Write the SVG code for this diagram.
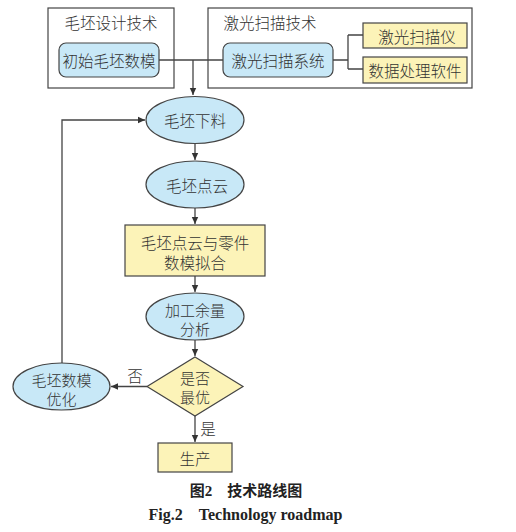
<svg xmlns="http://www.w3.org/2000/svg" width="516" height="532" viewBox="0 0 516 532">
<style>
.t{font-family:"Noto Sans CJK SC","Liberation Sans",sans-serif;font-size:15.5px;font-weight:300;fill:#333;text-anchor:middle;dominant-baseline:central}
.s{font-size:15px}
.grp{fill:#fff;stroke:#444;stroke-width:1.2}
.blue{fill:#c8e8f7;stroke:#444;stroke-width:1.2}
.yel{fill:#fcf3b8;stroke:#444;stroke-width:1.2}
.ln{fill:none;stroke:#444;stroke-width:1.3}
.cap{font-family:"Noto Sans CJK SC",sans-serif;font-size:15px;font-weight:bold;fill:#222;text-anchor:middle}
.capen{font-family:"Liberation Serif",serif;font-size:16px;font-weight:bold;fill:#222;text-anchor:middle}
</style>
<defs>
<marker id="ah" markerWidth="8" markerHeight="8" refX="7" refY="4" orient="auto" markerUnits="userSpaceOnUse">
<path d="M0,0.8 L7,4 L0,7.2 Z" fill="#333"/>
</marker>
</defs>
<g id="group-design">
<rect class="grp" x="48" y="8" width="126" height="80"/>
<text class="t" x="111" y="22">毛坯设计技术</text>
</g>
<g id="group-laser">
<rect class="grp" x="208" y="8" width="264" height="80"/>
<text class="t" x="270" y="22">激光扫描技术</text>
</g>
<g id="connectors">
<path class="ln" d="M159,60 H223"/>
<path class="ln" d="M193,60 V95" marker-end="url(#ah)"/>
<path class="ln" d="M333,60 H348 M348,35 V69 M348,35 H363 M348,69 H363"/>
<path class="ln" d="M195,143 V160" marker-end="url(#ah)"/>
<path class="ln" d="M195,208 V224" marker-end="url(#ah)"/>
<path class="ln" d="M195,276 V292" marker-end="url(#ah)"/>
<path class="ln" d="M195,340 V356" marker-end="url(#ah)"/>
<path class="ln" d="M147,386.5 H111" marker-end="url(#ah)"/>
<path class="ln" d="M62,363 V120 H145" marker-end="url(#ah)"/>
<path class="ln" d="M195,416 V442" marker-end="url(#ah)"/>
<text class="t" x="135" y="375">否</text>
<text class="t" x="208" y="428">是</text>
</g>
<g id="node-init-model">
<rect class="blue" x="59" y="43" width="100" height="34" rx="7"/>
<text class="t" x="109" y="60">初始毛坯数模</text>
</g>
<g id="node-laser-system">
<rect class="blue" x="223" y="43" width="110" height="34" rx="7"/>
<text class="t" x="278" y="60">激光扫描系统</text>
</g>
<g id="node-scanner">
<rect class="yel" x="363" y="23" width="104" height="25"/>
<text class="t" x="417" y="35.5">激光扫描仪</text>
</g>
<g id="node-software">
<rect class="yel" x="363" y="57" width="104" height="26"/>
<text class="t" x="415" y="70">数据处理软件</text>
</g>
<g id="node-cut">
<ellipse class="blue" cx="195" cy="120" rx="49" ry="23.5"/>
<text class="t" x="195" y="120">毛坯下料</text>
</g>
<g id="node-cloud">
<ellipse class="blue" cx="195" cy="184.5" rx="49" ry="23.5"/>
<text class="t" x="197" y="184.5">毛坯点云</text>
</g>
<g id="node-fit">
<rect class="yel" x="125" y="225" width="140" height="51"/>
<text class="t" x="195" y="241.5">毛坯点云与零件<tspan x="195" dy="20">数模拟合</tspan></text>
</g>
<g id="node-allowance">
<ellipse class="blue" cx="195" cy="316.5" rx="49" ry="23.5"/>
<text class="t s" x="195" y="309">加工余量<tspan x="195" dy="19">分析</tspan></text>
</g>
<g id="node-decision">
<polygon class="yel" points="195,357 243,386.5 195,416 147,386.5"/>
<text class="t s" x="195" y="377">是否<tspan x="195" dy="19">最优</tspan></text>
</g>
<g id="node-optimize">
<ellipse class="blue" cx="61.5" cy="386.5" rx="48.5" ry="23.5"/>
<text class="t s" x="61.5" y="379">毛坯数模<tspan x="61.5" dy="19">优化</tspan></text>
</g>
<g id="node-produce">
<rect class="yel" x="158" y="443" width="74" height="29"/>
<text class="t" x="195" y="457.5">生产</text>
</g>
<g id="caption">
<text class="cap" x="246" y="496">图<tspan font-family="Liberation Serif">2</tspan>　技术路线图</text>
<text class="capen" x="245.5" y="520">Fig.2　Technology roadmap</text>
</g>
</svg>
